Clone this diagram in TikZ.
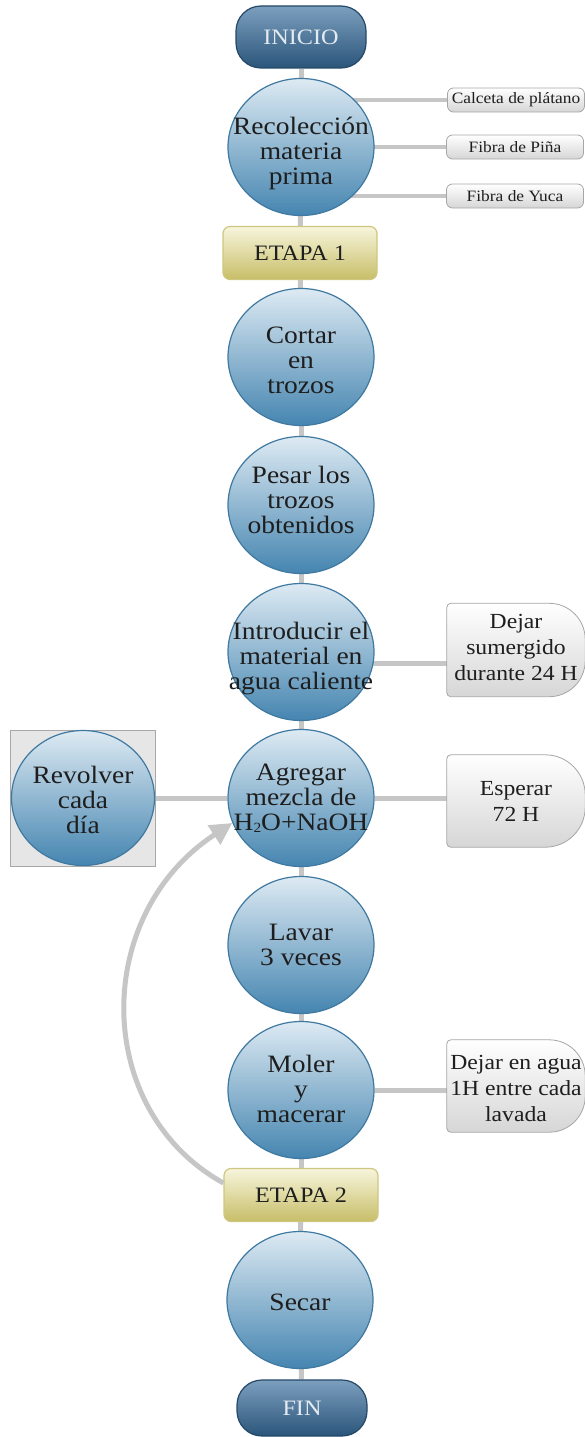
\documentclass[tikz,border=0pt]{standalone}
\usepackage{fontspec}
\setmainfont{Liberation Serif}[FakeStretch=1.1]
\usetikzlibrary{shapes.geometric,arrows.meta,backgrounds}
\definecolor{circT}{HTML}{DDEAF3}
\definecolor{circBot}{HTML}{4585B0}
\definecolor{circB}{HTML}{3F79A1}
\definecolor{pillT}{HTML}{7C9FBE}
\definecolor{pillBot}{HTML}{2A557A}
\definecolor{pillB}{HTML}{244868}
\definecolor{pillTxt}{HTML}{E4EBF2}
\definecolor{etT}{HTML}{F7F5DC}
\definecolor{etBot}{HTML}{C7BE68}
\definecolor{etB}{HTML}{CFC780}
\definecolor{tagB}{HTML}{A6A6A6}
\definecolor{tagBot}{HTML}{D6D6D6}
\definecolor{connC}{HTML}{C6C6C6}
\definecolor{txt}{HTML}{1E1E1E}
\definecolor{sqF}{HTML}{E6E6E6}
\definecolor{sqB}{HTML}{A8A8A8}
\begin{document}
\begin{tikzpicture}[x=1pt,y=-1pt,
 proc/.style={ellipse, draw=circB, line width=1.2, top color=circT, bottom color=circBot, minimum width=146, minimum height=137, inner sep=0},
 ptext/.style={align=center, font=\fontsize{25}{25}\selectfont, text=txt, inner sep=0},
 pill/.style={rectangle, rounded corners=25, draw=pillB, line width=1.2, top color=pillT, bottom color=pillBot, minimum width=130, minimum height=62, text=pillTxt, font=\fontsize{22}{24}\selectfont},
 etapa/.style={rectangle, rounded corners=7, draw=etB, line width=1.2, top color=etT, bottom color=etBot, minimum width=154, minimum height=53, text=txt, font=\fontsize{22}{24}\selectfont},
 tag/.style={rectangle, rounded corners=6, draw=tagB, line width=0.8, top color=white, bottom color=tagBot, minimum width=137, minimum height=24, inner sep=0, text=txt, font=\fontsize{15.8}{17}\selectfont},
 bigbox/.style={rectangle, minimum width=138, minimum height=92, inner sep=0},
 bigshape/.style={draw=tagB, line width=0.8, top color=white, bottom color=tagBot},
 btext/.style={align=center, font=\fontsize{21.5}{26}\selectfont, text=txt, inner sep=0},
 conn/.style={draw=connC, line width=5},
 larrow/.style={draw=connC, line width=5, -{Triangle[length=22,width=22]}}
]
\useasboundingbox (0,0) rectangle (585,1437);

% main column
\node[pill] (inicio) at (301,37) {INICIO};
\node[proc] (reco) at (301,147) {};
\node[ptext] (recot) at (301,153) {Recolección\\materia\\prima};
\node[etapa] (et1) at (300,253) {ETAPA 1};
\node[proc] (cortar) at (301,357) {};
\node[ptext] (cortart) at (301,360) {Cortar\\en\\trozos};
\node[proc] (pesar) at (301,505) {};
\node[ptext] (pesart) at (301,500) {Pesar los\\trozos\\obtenidos};
\node[proc] (intro) at (301,652) {};
\node[ptext] (introt) at (301,659) {Introducir el\\material en\\agua caliente};
\node[proc] (agregar) at (301,798) {};
\node[ptext] (agregart) at (301,798) {Agregar\\mezcla de\\H{\fontsize{14}{14}\selectfont\raisebox{-1.5pt}{2}}O+NaOH};
\node[proc] (lavar) at (301,945) {};
\node[ptext] (lavart) at (301,945) {Lavar\\3 veces};
\node[proc] (moler) at (301,1090) {};
\node[ptext] (molert) at (301,1089) {Moler\\y\\macerar};
\node[etapa] (et2) at (301,1195) {ETAPA 2};
\node[proc] (secar) at (300,1300) {};
\node[ptext] (secart) at (300,1302) {Secar};
\node[pill, minimum height=56] (fin) at (302,1408) {FIN};

% raw material tags
\node[tag] (calceta) at (516,100) {Calceta de plátano};
\node[tag] (pina) at (515,147) {Fibra de Piña};
\node[tag] (yuca) at (515,196) {Fibra de Yuca};

% right side boxes
\node[bigbox, minimum height=93] (b1) at (516,650) {};
\path[bigshape] (b1.south west) [rounded corners=4] -- (b1.north west) [rounded corners=36] -- (b1.north east) -- (b1.south east) [rounded corners=4] -- cycle;
\node[btext] (b1t) at (516,647) {Dejar\\sumergido\\durante 24 H};

\node[bigbox] (b2) at (516,801) {};
\path[bigshape] (b2.south west) [rounded corners=4] -- (b2.north west) [rounded corners=40] -- (b2.north east) -- (b2.south east) [rounded corners=4] -- cycle;
\node[btext] (b2t) at (516,801) {Esperar\\72 H};

\node[bigbox] (b3) at (516,1086) {};
\path[bigshape] (b3.south west) [rounded corners=4] -- (b3.north west) [rounded corners=36] -- (b3.north east) -- (b3.south east) [rounded corners=4] -- cycle;
\node[btext] (b3t) at (516,1088) {Dejar en agua\\1H entre cada\\lavada};

% left box
\node[rectangle, draw=sqB, line width=1, fill=sqF, minimum width=145, minimum height=136] (revsq) at (83,798) {};
\node[proc, minimum width=143, minimum height=135] (rev) at (83,798) {};
\node[ptext] (revt) at (83,800) {Revolver\\cada\\día};

\begin{scope}[on background layer]
 \draw[conn] (inicio) -- (reco);
 \draw[conn] (reco) -- (et1);
 \draw[conn] (et1) -- (cortar);
 \draw[conn] (cortar) -- (pesar);
 \draw[conn] (pesar) -- (intro);
 \draw[conn] (intro) -- (agregar);
 \draw[conn] (agregar) -- (lavar);
 \draw[conn] (lavar) -- (moler);
 \draw[conn] (moler) -- (et2);
 \draw[conn] (et2) -- (secar);
 \draw[conn] (secar) -- (fin);
 \draw[conn, line width=4] (calceta.west) -- (calceta.west -| reco);
 \draw[conn, line width=4] (pina.west) -- (pina.west -| reco);
 \draw[conn, line width=4] (yuca.west) -- (yuca.west -| reco);
 \draw[conn] ([yshift=-11]intro.center) -- ([yshift=-11]intro.center -| b1.west);
 \draw[conn] (agregar) -- (agregar -| b2.west);
 \draw[conn] (moler) -- (moler -| b3.west);
 \draw[conn] (rev) -- (agregar);
\end{scope}

\draw[larrow] ([yshift=12]et2.west) .. controls (92,1110) and (92,915) .. (agregar.200);
\end{tikzpicture}
\end{document}
